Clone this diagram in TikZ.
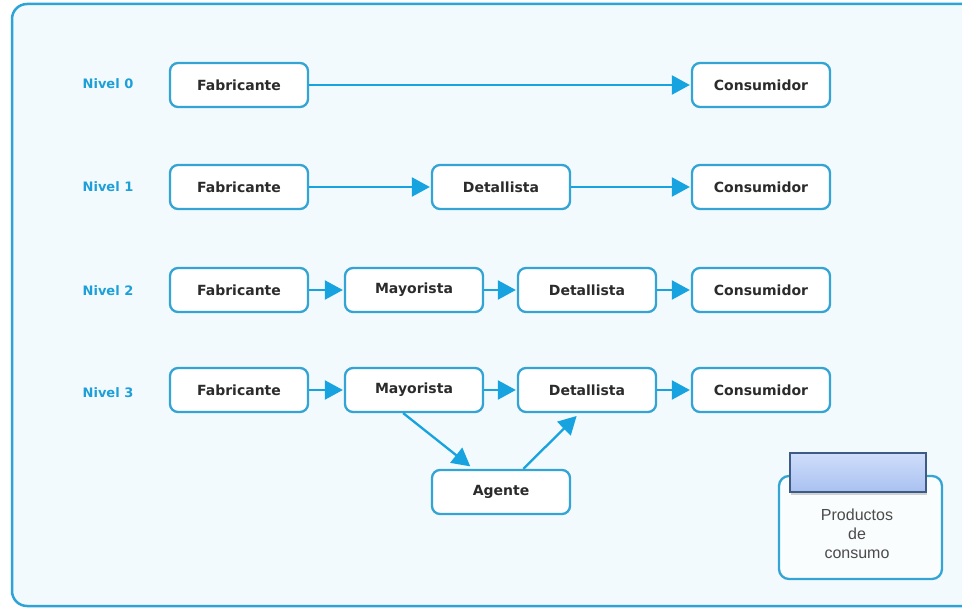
\documentclass[tikz,border=0pt]{standalone}
\usepackage{fontspec}
\setmainfont{DejaVu Sans}
\newfontfamily\plainsans{Liberation Sans}
\usetikzlibrary{arrows.meta,shadows}
\definecolor{frameblue}{HTML}{2EA3D5}
\definecolor{boxblue}{HTML}{33A4D4}
\definecolor{arrowblue}{HTML}{17A3DF}
\definecolor{levelblue}{HTML}{1E9FD8}
\definecolor{panelbg}{HTML}{F2FAFD}
\definecolor{textgray}{HTML}{2B2B2B}
\definecolor{headtop}{HTML}{CFDDFA}
\definecolor{headbot}{HTML}{A9C1F0}
\definecolor{headedge}{HTML}{3E5B86}
\tikzset{
  stage/.style={draw=boxblue, line width=2.3pt, fill=white, rounded corners=8pt,
    minimum width=138pt, minimum height=44pt, inner sep=0pt,
    font=\fontsize{14}{16}\selectfont\bfseries, text=textgray},
  levellabel/.style={font=\fontsize{13}{15}\selectfont\bfseries, text=levelblue},
  flow/.style={draw=arrowblue, line width=2.3pt,
    -{Triangle[length=18pt,width=19pt]}, shorten >=1pt},
  diag/.style={flow, shorten >=4pt}
}
\begin{document}
\begin{tikzpicture}[x=1pt,y=-1pt]
\useasboundingbox (0,0) rectangle (962,609);
\fill[white] (0,0) rectangle (962,609);
\begin{scope}
\clip (0,0) rectangle (962,609);
\draw[frameblue, line width=2.5pt, fill=panelbg, rounded corners=15pt] (12,4) rectangle (985,606);
\end{scope}

% level labels
\node[levellabel] (l0) at (108,84) {Nivel 0};
\node[levellabel] (l1) at (108,187) {Nivel 1};
\node[levellabel] (l2) at (108,291) {Nivel 2};
\node[levellabel] (l3) at (108,393) {Nivel 3};

% level 0
\node[stage] (f0) at (239,85) {Fabricante};
\node[stage] (c0) at (761,85) {Consumidor};
\draw[flow] (f0) -- (c0);

% level 1
\node[stage] (f1) at (239,187) {Fabricante};
\node[stage] (d1) at (501,187) {Detallista};
\node[stage] (c1) at (761,187) {Consumidor};
\draw[flow] (f1) -- (d1);
\draw[flow] (d1) -- (c1);

% level 2
\node[stage] (f2) at (239,290) {Fabricante};
\node[stage] (m2) at (414,290) {Mayorista};
\node[stage] (d2) at (587,290) {Detallista};
\node[stage] (c2) at (761,290) {Consumidor};
\draw[flow] (f2) -- (m2);
\draw[flow] (m2) -- (d2);
\draw[flow] (d2) -- (c2);

% level 3
\node[stage] (f3) at (239,390) {Fabricante};
\node[stage] (m3) at (414,390) {Mayorista};
\node[stage] (d3) at (587,390) {Detallista};
\node[stage] (c3) at (761,390) {Consumidor};
\node[stage] (ag) at (501,492) {Agente};
\draw[flow] (f3) -- (m3);
\draw[flow] (m3) -- (d3);
\draw[flow] (d3) -- (c3);
\draw[diag] (m3.245) -- (ag.140);
\draw[diag] (ag.46) -- (d3.252);

% consumer goods box
\node[draw=boxblue, line width=2.3pt, fill=white!60!panelbg, rounded corners=10pt,
  minimum width=163pt, minimum height=103pt, inner sep=0pt] (pc) at (860.5,527.5) {};
\node[draw=headedge, line width=1.2pt, top color=headtop, bottom color=headbot,
  minimum width=136pt, minimum height=39pt, inner sep=0pt,
  drop shadow={opacity=0.35, shadow xshift=1pt, shadow yshift=-3pt}] (hd) at (858,472.5) {};
\node[font=\plainsans\fontsize{16}{19}\selectfont, text=textgray!85, align=center] (pt) at (857,534) {Productos\\de\\consumo};
\end{tikzpicture}
\end{document}
